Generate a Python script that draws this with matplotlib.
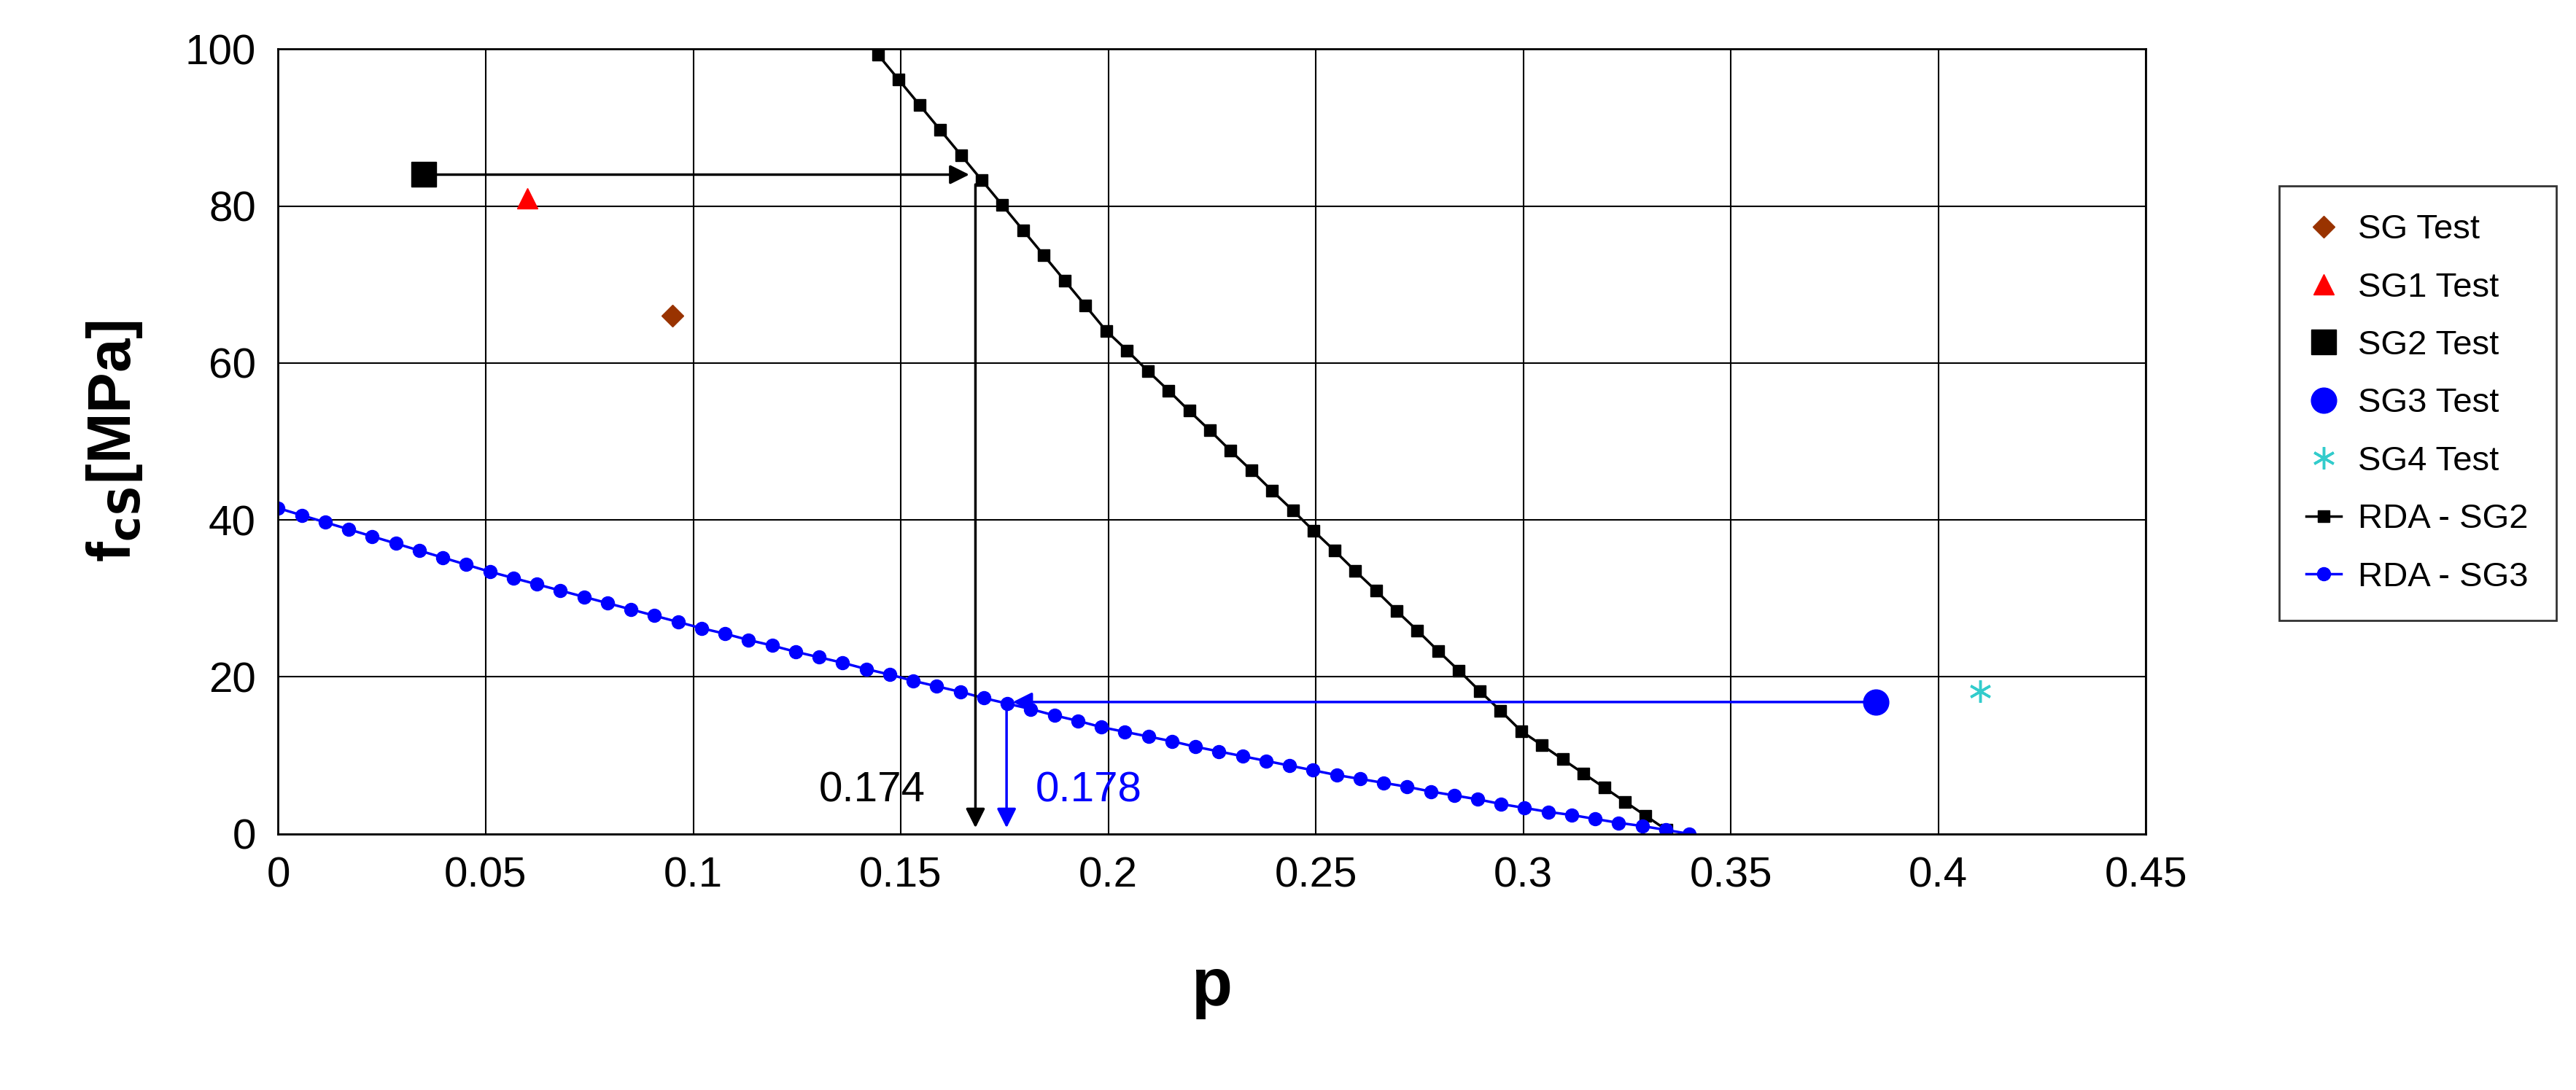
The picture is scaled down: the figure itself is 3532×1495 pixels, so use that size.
import matplotlib
matplotlib.use("Agg")
import matplotlib.pyplot as plt

plt.rcParams['font.family'] = ['Liberation Sans', 'DejaVu Sans']

# RDA curves
sg2_x = [0.1445 + 0.005 * i for i in range(39)]
sg2_y = [99.3, 96.1, 92.9, 89.7, 86.5, 83.3, 80.1, 76.9, 73.7, 70.5, 67.3, 64.1,
         61.6, 59.0, 56.5, 53.9, 51.4, 48.8, 46.3, 43.7, 41.2, 38.6, 36.1, 33.5,
         31.0, 28.4, 25.9, 23.3, 20.8, 18.2, 15.7, 13.1,
         11.3, 9.5, 7.7, 5.9, 4.1, 2.3, 0.5]
sg3_x = [0.34 / 60 * i for i in range(61)]
sg3_y = [41.5, 40.6, 39.7, 38.8, 37.9, 37.0, 36.1, 35.2, 34.3, 33.4,
         32.6, 31.8, 31.0, 30.2, 29.4, 28.6, 27.8, 27.0, 26.2,
         25.5, 24.7, 24.0, 23.2, 22.5, 21.8, 21.0, 20.3, 19.5, 18.8, 18.1, 17.3,
         16.6, 15.9, 15.1, 14.4, 13.6,
         13.0, 12.4, 11.8, 11.1, 10.5, 9.9, 9.3, 8.7, 8.1,
         7.5, 7.0, 6.5, 6.0, 5.4, 4.9, 4.4, 3.8, 3.3,
         2.8, 2.4, 1.9, 1.4, 1.0, 0.5, 0.0]

# test points
tests = {
    "SG Test": (0.095, 66),
    "SG1 Test": (0.06, 81),
    "SG2 Test": (0.035, 84),
    "SG3 Test": (0.385, 16.8),
    "SG4 Test": (0.41, 18.2),
}
styles = {
    "SG Test": dict(marker='D', color='#993300', ms=15),
    "SG1 Test": dict(marker='^', color='red', ms=20),
    "SG2 Test": dict(marker='s', color='black', ms=24),
    "SG3 Test": dict(marker='o', color='blue', ms=25),
    "SG4 Test": dict(marker=(6, 2, 0), color='#33cccc', ms=22, mew=2.5),
}

# read-off values
p_sg2, f_sg2 = 0.168, 84
p_sg3, f_sg3 = 0.1755, 16.8

fig = plt.figure(figsize=(35.32, 14.95), dpi=100)
ax = fig.add_axes([0.108, 0.235, 0.725, 0.72])

for name, (x, y) in tests.items():
    ax.plot([x], [y], linestyle='none', label=name, **styles[name])
ax.plot(sg2_x, sg2_y, '-s', color='black', lw=2.5, ms=12, label='RDA - SG2')
ax.plot(sg3_x, sg3_y, '-o', color='blue', lw=2.5, ms=13, label='RDA - SG3')

arrow_k = dict(arrowstyle='-|>', color='black', lw=2.5, mutation_scale=40)
arrow_b = dict(arrowstyle='-|>', color='blue', lw=2.5, mutation_scale=40)
ax.annotate('', xy=(p_sg2 - 0.001, f_sg2), xytext=tests["SG2 Test"], arrowprops=arrow_k)
ax.annotate('', xy=(p_sg2, 0.5), xytext=(p_sg2, f_sg2 - 1), arrowprops=arrow_k)
ax.annotate('', xy=(p_sg3 + 0.001, f_sg3), xytext=tests["SG3 Test"], arrowprops=arrow_b)
ax.annotate('', xy=(p_sg3, 0.5), xytext=(p_sg3, f_sg3), arrowprops=arrow_b)
ax.text(0.156, 5.5, '0.174', fontsize=42, ha='right', va='center', color='black')
ax.text(0.1825, 5.5, '0.178', fontsize=42, ha='left', va='center', color='blue')

ax.set_xlim(0, 0.45)
ax.set_ylim(0, 100)
ax.set_xticks([0, 0.05, 0.1, 0.15, 0.2, 0.25, 0.3, 0.35, 0.4, 0.45])
ax.set_xticklabels(['0', '0.05', '0.1', '0.15', '0.2', '0.25', '0.3', '0.35', '0.4', '0.45'])
ax.set_yticks([0, 20, 40, 60, 80, 100])
ax.tick_params(labelsize=42, length=0, pad=22)
ax.grid(True, color='black', lw=1.5)
for s in ax.spines.values():
    s.set_linewidth(2)
ax.set_axisbelow(True)

ax.set_xlabel('p', fontsize=66, fontweight='bold', labelpad=60)
ax.set_ylabel(r'f$_{\mathbf{cS}}$[MPa]', fontsize=60, fontweight='bold', labelpad=40)

leg = fig.legend(loc='upper left', bbox_to_anchor=(0.878, 0.845), fontsize=34,
                 frameon=True, fancybox=False, edgecolor='black', handlelength=1.0,
                 handletextpad=0.5, labelspacing=0.75, borderpad=0.8, numpoints=1)
leg.get_frame().set_linewidth(2)

fig.savefig('out.png', dpi=100)
